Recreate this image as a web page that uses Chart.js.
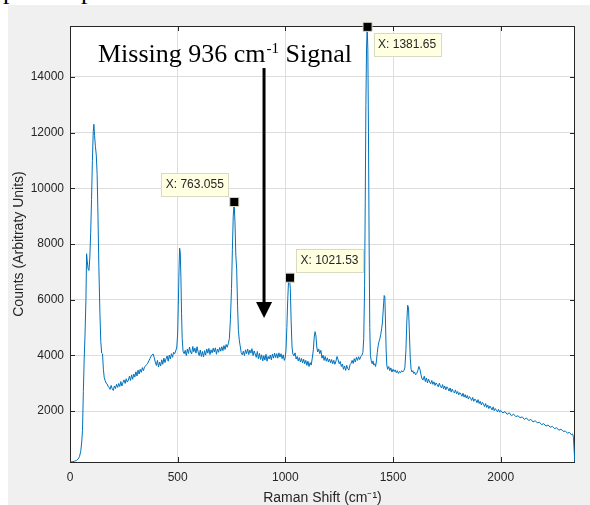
<!DOCTYPE html>
<html>
<head>
<meta charset="utf-8">
<script src="https://cdn.jsdelivr.net/npm/chart.js@4.4.0/dist/chart.umd.min.js"></script>
<style>
  body { margin: 0; background: #fff; }
  #wrap { position: relative; width: 590px; height: 505px; overflow: hidden; }
  #figure { position: absolute; left: 8px; top: 5px; width: 582px; height: 500px; background: #f0f0f0; }
  .frag { position: absolute; top: -24px; font: 26px "Liberation Serif", serif; color: #000; }
  canvas { position: absolute; left: 0; top: 0; }
</style>
</head>
<body>
<div id="wrap">
  <div class="frag" style="left:3px">p</div>
  <div class="frag" style="left:81px">p</div>
  <div id="figure"></div>
  <canvas id="chart1" width="590" height="505"></canvas>
</div>
<script>
// spectrum (Raman shift in cm-1, counts)
const ramanShift = [
  0, 10, 20, 30, 38, 44, 50, 54, 58, 62, 66, 70, 74, 77, 80, 84, 88, 92, 96, 100,
  104, 108, 111, 114, 118, 122, 126, 130, 134, 139, 143, 147, 151, 155, 159, 163, 168, 172, 176, 181,
  186, 191, 196, 201, 206, 211, 216, 221, 226, 231, 236, 241, 246, 251, 256, 261, 266, 271, 276, 281,
  286, 291, 296, 301, 306, 311, 316, 321, 326, 331, 336, 341, 346, 351, 356, 361, 366, 371, 376, 381,
  386, 391, 396, 401, 406, 411, 416, 421, 426, 431, 436, 441, 446, 451, 456, 461, 466, 471, 476, 481,
  486, 491, 496, 500, 503, 506, 509, 512, 515, 518, 521, 525, 530, 535, 540, 545, 550, 555, 560, 565,
  570, 575, 580, 585, 590, 595, 600, 605, 610, 615, 620, 625, 630, 635, 640, 645, 650, 655, 660, 665,
  670, 675, 680, 685, 690, 695, 700, 705, 710, 715, 720, 725, 730, 735, 740, 745, 750, 754, 758, 762,
  766, 770, 774, 778, 782, 786, 790, 795, 800, 805, 810, 815, 820, 825, 830, 835, 840, 845, 850, 855,
  860, 865, 870, 875, 880, 885, 890, 895, 900, 905, 910, 915, 920, 925, 930, 935, 940, 945, 950, 955,
  960, 965, 970, 975, 980, 985, 990, 995, 999, 1003, 1007, 1011, 1015, 1019, 1023, 1027, 1031, 1035, 1040, 1045,
  1050, 1055, 1060, 1065, 1070, 1075, 1080, 1085, 1090, 1095, 1100, 1105, 1110, 1115, 1120, 1125, 1130, 1134, 1138, 1142,
  1146, 1150, 1155, 1160, 1165, 1170, 1175, 1180, 1185, 1190, 1195, 1200, 1205, 1210, 1215, 1220, 1225, 1230, 1235, 1240,
  1245, 1250, 1255, 1260, 1265, 1270, 1275, 1280, 1285, 1290, 1295, 1300, 1305, 1310, 1315, 1320, 1325, 1330, 1335, 1340,
  1345, 1350, 1355, 1360, 1364, 1368, 1371, 1374, 1377, 1380, 1383, 1386, 1389, 1392, 1395, 1399, 1403, 1407, 1411, 1415,
  1419, 1423, 1427, 1431, 1435, 1439, 1443, 1447, 1451, 1455, 1459, 1462, 1465, 1468, 1471, 1475, 1480, 1485, 1490, 1495,
  1500, 1505, 1510, 1515, 1520, 1525, 1530, 1535, 1540, 1545, 1550, 1555, 1560, 1564, 1568, 1572, 1576, 1580, 1584, 1588,
  1592, 1596, 1600, 1605, 1610, 1615, 1620, 1625, 1630, 1635, 1640, 1645, 1650, 1655, 1660, 1665, 1670, 1675, 1680, 1685,
  1690, 1695, 1700, 1705, 1710, 1715, 1720, 1725, 1730, 1735, 1740, 1745, 1750, 1755, 1760, 1765, 1770, 1775, 1780, 1785,
  1790, 1795, 1800, 1805, 1810, 1815, 1820, 1825, 1830, 1835, 1840, 1845, 1850, 1855, 1860, 1865, 1870, 1875, 1880, 1885,
  1890, 1895, 1900, 1905, 1910, 1915, 1920, 1925, 1930, 1935, 1940, 1945, 1950, 1955, 1960, 1965, 1970, 1975, 1980, 1985,
  1990, 1995, 2000, 2010, 2020, 2030, 2040, 2050, 2060, 2070, 2080, 2090, 2100, 2110, 2120, 2130, 2140, 2150, 2160, 2170,
  2180, 2190, 2200, 2210, 2220, 2230, 2240, 2250, 2260, 2270, 2280, 2290, 2300, 2310, 2320, 2328, 2334, 2338, 2341, 2344
];
const counts = [
  175, 180, 195, 225, 280, 360, 560, 850, 1300, 2700, 3900, 4800, 6000, 7650, 7400, 7100, 7050, 7500, 8400, 9600,
  11000, 12050, 12300, 11900, 11500, 11200, 10500, 9000, 7200, 5500, 4500, 4080, 4050, 3500, 3200, 3100, 3000, 2980, 2900, 2850,
  2780, 2920, 2800, 2740, 2900, 2810, 2960, 2850, 2990, 2880, 3060, 2900, 3030, 3120, 2990, 3160, 3040, 3110, 3250, 3100,
  3300, 3140, 3330, 3220, 3410, 3260, 3470, 3330, 3500, 3390, 3560, 3450, 3580, 3620, 3670, 3720, 3800, 3880, 3960, 4020,
  4050, 3920, 3760, 3640, 3820, 3580, 3760, 3620, 3840, 3680, 3900, 3740, 3880, 3980, 3790, 4010, 3870, 4060, 3930, 4110,
  4060, 4160, 4300, 4800, 5800, 7000, 7850, 7700, 6800, 5500, 4600, 4150, 4060, 4180, 3990, 4230, 4070, 4300, 4120, 4050,
  4320, 4130, 4260, 4080, 4310, 4120, 3990, 4190, 3960, 4140, 3940, 4170, 4010, 4230, 4080, 4250, 4030, 4200, 4090, 4260,
  4120, 4270, 4040, 4230, 4110, 4280, 4150, 4310, 4170, 4350, 4210, 4390, 4290, 4420, 4600, 5300, 6400, 7800, 9000, 9500,
  8800, 7600, 7100, 5800, 4900, 4550, 4350, 4100, 4020, 4150, 3990, 4200, 4060, 4230, 4030, 4190, 4080, 4240, 3990, 4160,
  4050, 3930, 4140, 3880, 4070, 3850, 4020, 3800, 3990, 3830, 4040, 3790, 3960, 3870, 4010, 3840, 4050, 3900, 4080, 3920,
  4060, 3900, 4090, 3940, 4060, 3880, 4020, 3820, 3900, 4200, 5000, 6000, 6700, 6800, 6400, 5200, 4300, 4050, 3980, 4090,
  3870, 3960, 3800, 3920, 3760, 3890, 3730, 3860, 3700, 3820, 3640, 3790, 3600, 3740, 3650, 3900, 4200, 4650, 4850, 4700,
  4300, 4120, 4230, 4060, 4180, 3900, 4010, 3820, 3960, 3790, 3910, 3760, 3870, 3730, 3850, 3700, 3820, 3680, 3790, 3960,
  3840, 3700, 3780, 3600, 3690, 3500, 3620, 3460, 3640, 3520, 3470, 3660, 3710, 3820, 3710, 3880, 3760, 3930, 3820, 3950,
  3850, 3950, 4000, 4100, 4600, 6500, 9500, 13000, 15000, 15800, 15000, 12000, 8000, 5000, 4000, 3800, 3700, 3800, 3650, 3700,
  3600, 3800, 4100, 4350, 4500, 4600, 4750, 4950, 5200, 5700, 6150, 6100, 5200, 4200, 3650, 3500, 3600, 3450, 3550, 3400,
  3500, 3420, 3480, 3380, 3450, 3350, 3420, 3380, 3450, 3400, 3450, 3550, 4200, 5200, 5800, 5700, 4800, 3900, 3500, 3400,
  3450, 3350, 3400, 3300, 3350, 3450, 3600, 3500, 3300, 3150, 3120, 3250, 3060, 3190, 3010, 3150, 3040, 2980, 3100, 2960,
  3050, 2920, 3010, 2950, 2870, 3000, 2890, 2830, 2950, 2800, 2900, 2760, 2870, 2810, 2720, 2830, 2680, 2790, 2700, 2650,
  2760, 2620, 2700, 2580, 2660, 2610, 2530, 2640, 2500, 2590, 2470, 2560, 2430, 2520, 2460, 2380, 2490, 2350, 2430, 2390,
  2300, 2410, 2270, 2350, 2220, 2310, 2250, 2160, 2270, 2130, 2210, 2090, 2180, 2110, 2040, 2150, 2010, 2090, 2030, 1970,
  2060, 1960, 2020, 1930, 1980, 1880, 1940, 1830, 1890, 1800, 1830, 1760, 1790, 1700, 1750, 1660, 1700, 1610, 1650, 1580,
  1600, 1510, 1550, 1460, 1500, 1420, 1450, 1370, 1400, 1310, 1350, 1270, 1280, 1210, 1230, 1150, 1180, 1050, 600, 180
];

// data cursors
const tipShift = [763.055, 1021.53, 1381.65];
const tipCounts = [9509, 6790, 15800];
const tipSide = ['nw', 'ne', 'se'];

const xTicks = [0, 500, 1000, 1500, 2000];
const yTicks = [2000, 4000, 6000, 8000, 10000, 12000, 14000];

// annotation (data units)
const noteShift = 130, noteCounts = 14550;
const arrowShift = 901, arrowTop = 14320, arrowTip = 5340;

const axisColor = '#262626';

const decor = {
  id: 'decor',
  beforeDraw(chart) {
    const { ctx, chartArea: a } = chart;
    ctx.save();
    ctx.fillStyle = '#fff';
    ctx.fillRect(a.left, a.top, a.right - a.left, a.bottom - a.top);
    ctx.restore();
  },
  beforeDatasetsDraw(chart) {
    const { ctx, chartArea: a, scales } = chart;
    ctx.save();
    ctx.strokeStyle = axisColor;
    ctx.lineWidth = 1;
    ctx.strokeRect(a.left + 0.5, a.top + 0.5, a.right - a.left - 1, a.bottom - a.top);
    ctx.beginPath();
    xTicks.forEach(v => {
      const px = Math.round(scales.x.getPixelForValue(v)) + 0.5;
      ctx.moveTo(px, a.bottom); ctx.lineTo(px, a.bottom - 5);
      ctx.moveTo(px, a.top); ctx.lineTo(px, a.top + 5);
    });
    yTicks.forEach(v => {
      const py = Math.round(scales.y.getPixelForValue(v)) + 0.5;
      ctx.moveTo(a.left, py); ctx.lineTo(a.left + 5, py);
      ctx.moveTo(a.right, py); ctx.lineTo(a.right - 5, py);
    });
    ctx.stroke();
    ctx.restore();
  },
  afterDraw(chart) {
    const { ctx, scales } = chart;
    const xs = scales.x, ys = scales.y;
    ctx.save();
    // datatips
    ctx.font = '12px "Liberation Sans", Arial, sans-serif';
    ctx.textBaseline = 'middle';
    tipShift.forEach((v, i) => {
      const mx = xs.getPixelForValue(v), my = ys.getPixelForValue(tipCounts[i]);
      const label = 'X: ' + v;
      const w = ctx.measureText(label).width + 9, h = 23, gap = 6;
      const side = tipSide[i];
      const bx = side.includes('w') ? mx - gap - w : mx + gap;
      const by = side.includes('n') ? my - gap - h : my + gap;
      ctx.fillStyle = '#ffffe1';
      ctx.fillRect(bx, by, w, h);
      ctx.strokeStyle = '#d9d9c4';
      ctx.lineWidth = 1;
      ctx.strokeRect(Math.round(bx) + 0.5, Math.round(by) + 0.5, Math.round(w), h);
      ctx.fillStyle = '#262626';
      ctx.fillText(label, bx + 4.5, by + h / 2 + 0.5);
    });
    // annotation
    const tx = xs.getPixelForValue(noteShift), ty = ys.getPixelForValue(noteCounts);
    ctx.fillStyle = '#000';
    ctx.textBaseline = 'alphabetic';
    ctx.font = '26px "Liberation Serif", serif';
    const part1 = 'Missing 936 cm';
    ctx.fillText(part1, tx, ty);
    let cx = tx + ctx.measureText(part1).width;
    ctx.font = '15px "Liberation Serif", serif';
    ctx.fillText('-1', cx + 1, ty - 9);
    cx += 1 + ctx.measureText('-1').width;
    ctx.font = '26px "Liberation Serif", serif';
    ctx.fillText(' Signal', cx, ty);
    // arrow
    const ax = xs.getPixelForValue(arrowShift);
    const a0 = ys.getPixelForValue(arrowTop), a1 = ys.getPixelForValue(arrowTip);
    ctx.strokeStyle = '#000';
    ctx.lineWidth = 3;
    ctx.beginPath();
    ctx.moveTo(ax, a0); ctx.lineTo(ax, a1 - 12);
    ctx.stroke();
    ctx.beginPath();
    ctx.moveTo(ax - 8, a1 - 16); ctx.lineTo(ax + 8, a1 - 16); ctx.lineTo(ax, a1);
    ctx.closePath();
    ctx.fill();
    ctx.restore();
  }
};

const tickFont = { family: '"Liberation Sans", Arial, sans-serif', size: 12 };
const titleFont = { family: '"Liberation Sans", Arial, sans-serif', size: 14 };

new Chart(document.getElementById('chart1'), {
  type: 'line',
  data: {
    datasets: [{
      data: ramanShift.map((x, i) => ({ x: x, y: counts[i] })),
      borderColor: '#0072BD',
      borderWidth: 1,
      borderDash: [10000, 0], // keeps the full path (no per-pixel fast path)
      pointRadius: 0,
      tension: 0,
      order: 2
    }, {
      data: tipShift.map((x, i) => ({ x: x, y: tipCounts[i] })),
      showLine: false,
      pointStyle: 'rect',
      pointRadius: 6.4,
      backgroundColor: '#000',
      borderColor: '#d9d9c4',
      borderWidth: 1,
      clip: false,
      order: 1
    }]
  },
  options: {
    animation: false,
    responsive: false,
    maintainAspectRatio: false,
    events: [],
    layout: { padding: { left: 8, top: 26, right: 15, bottom: 0 } },
    plugins: { legend: { display: false }, tooltip: { enabled: false } },
    scales: {
      x: {
        type: 'linear',
        min: 0,
        max: 2345,
        afterBuildTicks: s => { s.ticks = xTicks.map(v => ({ value: v })); },
        afterFit: s => { s.height = 43; },
        grid: { color: '#dedede', drawTicks: false },
        border: { display: false },
        ticks: { font: tickFont, color: axisColor, padding: 8, maxRotation: 0, callback: v => String(v) },
        title: { display: true, text: 'Raman Shift (cm\u207B\u00B9)', font: titleFont, color: axisColor, padding: { top: 0, bottom: -2 } }
      },
      y: {
        type: 'linear',
        min: 170,
        max: 15830,
        afterBuildTicks: s => { s.ticks = yTicks.map(v => ({ value: v })); },
        afterFit: s => { s.width = 62; },
        grid: { color: '#dedede', drawTicks: false },
        border: { display: false },
        ticks: { font: tickFont, color: axisColor, padding: 6, callback: v => String(v) },
        title: { display: true, text: 'Counts (Arbitraty Units)', font: titleFont, color: axisColor, padding: { top: 3, bottom: 0 } }
      }
    }
  },
  plugins: [decor]
});
</script>
</body>
</html>
